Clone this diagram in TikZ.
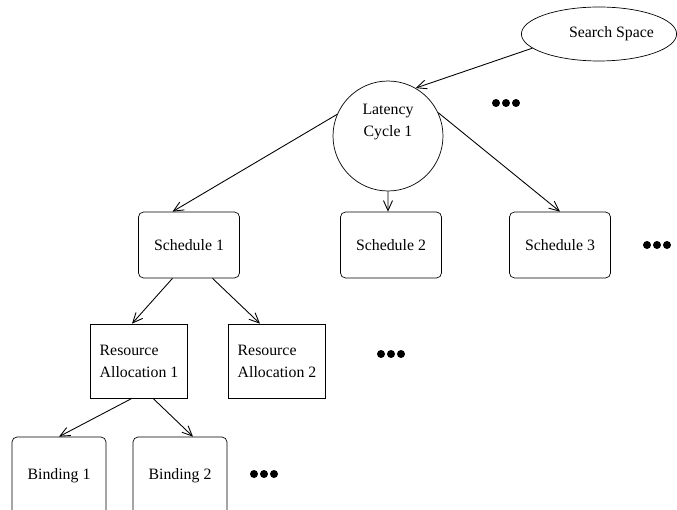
\documentclass[tikz,border=0pt]{standalone}
\usepackage{fontspec}
\setmainfont{Liberation Serif}
\usetikzlibrary{shapes.geometric,arrows.meta}

\begin{document}
\begin{tikzpicture}
[x=0.02cm,y=-0.02cm,
  every node/.style={font=\fontsize{9}{12.5}\selectfont,inner sep=0pt},
  spaceDecorate/.style={shape=ellipse,draw,minimum width=3.04cm,minimum height=1.08cm},
  cycleDecorate/.style={shape=circle,draw,minimum size=2.2cm,align=center},
  scheduleDecorate/.style={shape=rectangle,draw,rounded corners=0.1cm,minimum width=2.02cm,minimum height=1.32cm},
  resourceDecorate/.style={shape=rectangle,draw,minimum width=1.95cm,minimum height=1.48cm,align=left},
  bindingDecorate/.style={shape=rectangle,draw,rounded corners=0.1cm,minimum width=1.88cm,minimum height=1.56cm},
  lineDecorate/.style={-{Straight Barb[length=2mm,width=1.8mm]},line width=0.5pt}]
\useasboundingbox (0,0) rectangle (677,510);
%% nodes or vertices
\node (space) at (599,34) [spaceDecorate] {\hspace{0.5cm}Search Space};
\node (lat) at (388,136) [cycleDecorate] {Latency\\Cycle 1\\[0.2cm]};
\foreach \nodename/\x/\txt in {schA/189/Schedule 1, schB/391/Schedule 2, schC/560/Schedule 3} {
  \node (\nodename) at (\x,245) [scheduleDecorate] {\txt};
}
\foreach \nodename/\x/\txt in {resA/139/Resource\\Allocation 1, resB/277/Resource\\Allocation 2} {
  \node (\nodename) at (\x,361) [resourceDecorate] {\txt};
}
\foreach \nodename/\x/\txt in {bindA/59/Binding 1, bindB/180/Binding 2} {
  \node (\nodename) at (\x,476) [bindingDecorate] {\raisebox{0.06cm}{\txt}};
}
%% dots
\foreach \x/\y in {506/103, 657/245, 391/354, 264/474} {
  \foreach \dx in {-10,0,10} {
    \fill (\x+\dx,\y) circle (0.08cm);
  }
}
%% edges or lines
\path
(space.192) edge[lineDecorate] (lat.60)
(lat.157) edge[lineDecorate] ([xshift=-0.33cm]schA.north)
(lat.south) edge[lineDecorate] ([xshift=-0.06cm]schB.north)
(lat.25) edge[lineDecorate] (schC.north)
([xshift=-0.33cm]schA.south) edge[lineDecorate] ([xshift=-0.14cm]resA.north)
([xshift=0.47cm]schA.south) edge[lineDecorate] ([xshift=-0.34cm]resB.north)
([xshift=-0.14cm]resA.south) edge[lineDecorate] (bindA.north)
([xshift=0.28cm]resA.south) edge[lineDecorate] ([xshift=0.26cm]bindB.north);
\end{tikzpicture}
\end{document}
